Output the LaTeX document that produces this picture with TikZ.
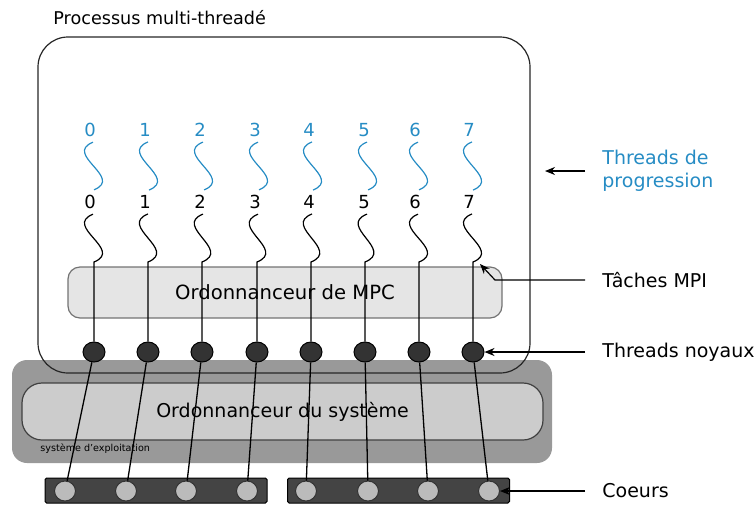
\documentclass[tikz,border=0pt]{standalone}
\usepackage{fontspec}
\setmainfont{DejaVu Sans}
\usetikzlibrary{arrows.meta,positioning,shapes.geometric}
\definecolor{progblue}{RGB}{38,140,196}
\definecolor{osgray}{RGB}{153,153,153}
\definecolor{schedfill}{RGB}{204,204,204}
\definecolor{mpcfill}{RGB}{229,229,229}
\definecolor{kthread}{RGB}{51,51,51}
\definecolor{corebar}{RGB}{68,68,68}
\definecolor{corefill}{RGB}{187,187,187}

\begin{document}
\begin{tikzpicture}[
  x=0.5pt, y=-0.5pt,
  font=\fontsize{9.5}{11.5}\selectfont,
  osbox/.style={fill=osgray, rounded corners=7.5pt, inner sep=0pt},
  procbox/.style={draw=black!85, line width=0.6pt, rounded corners=15pt, inner sep=0pt},
  sched/.style={draw=black!75, line width=0.6pt, fill=schedfill, rounded corners=10pt, inner sep=0pt},
  mpcsched/.style={draw=black!55, line width=0.6pt, fill=mpcfill, rounded corners=6pt, inner sep=0pt},
  num/.style={inner sep=2.5pt, font=\fontsize{9}{10}\selectfont},
  prog/.style={num, text=progblue},
  kth/.style={ellipse, draw=black, fill=kthread, line width=0.5pt, minimum width=11pt, minimum height=10pt, inner sep=0pt},
  bar/.style={draw=black, fill=corebar, line width=0.5pt, rounded corners=0.8pt, minimum width=111pt, minimum height=12.5pt, inner sep=0pt},
  core/.style={ellipse, draw=black!80, fill=corefill, line width=0.5pt, minimum width=10.5pt, minimum height=10pt, inner sep=0pt},
  pwave/.style={draw=progblue, line width=0.6pt},
  twave/.style={draw=black, line width=0.6pt},
  link/.style={draw=black, line width=0.65pt},
  lbl/.style={anchor=west, inner sep=0pt, align=left},
  ann/.style={-{Stealth[length=5pt,width=4pt]}, line width=0.6pt},
]
\useasboundingbox (0,0) rectangle (755,505);

% ===================== boxes =====================
\node[osbox, minimum width=270pt, minimum height=51.5pt] (os) at (282,411.5) {};
\node[procbox, minimum width=246pt, minimum height=168pt] (proc) at (284,205) {};
\node[anchor=west, inner sep=0pt, font=\fontsize{8.8}{10}\selectfont] (title) at (53,18) {Processus multi-threadé};

\node[sched, minimum width=260.5pt, minimum height=28.5pt] (ossched) at (282.5,411.5) {Ordonnanceur du système};
\node[anchor=west, inner sep=0pt, font=\fontsize{4.8}{6}\selectfont] (oslbl) at (40,449) {système d'exploitation};
\node[mpcsched, minimum width=217pt, minimum height=25.5pt, font=\fontsize{9.8}{11.5}\selectfont] (mpc) at (285,292.5) {Ordonnanceur de MPC};

% ===================== threads de progression / taches MPI =====================
\node[prog] (p0) at (90,130)  {0};
\node[prog] (p1) at (145,130) {1};
\node[prog] (p2) at (200,130) {2};
\node[prog] (p3) at (255,130) {3};
\node[prog] (p4) at (309,130) {4};
\node[prog] (p5) at (364,130) {5};
\node[prog] (p6) at (415,130) {6};
\node[prog] (p7) at (469,130) {7};

\node[num] (m0) at (90,202)  {0};
\node[num] (m1) at (145,202) {1};
\node[num] (m2) at (200,202) {2};
\node[num] (m3) at (255,202) {3};
\node[num] (m4) at (309,202) {4};
\node[num] (m5) at (364,202) {5};
\node[num] (m6) at (415,202) {6};
\node[num] (m7) at (469,202) {7};

% ends of the MPI task waves
\coordinate (e0) at (94,262);
\coordinate (e1) at (148,262);
\coordinate (e2) at (202,262);
\coordinate (e3) at (257,262);
\coordinate (e4) at (311,262);
\coordinate (e5) at (365,262);
\coordinate (e6) at (419,262);
\coordinate (e7) at (473,262);

% ===================== threads noyaux and coeurs =====================
\node[bar] (bar1) at (156,490.5) {};
\node[bar] (bar2) at (398.5,490.5) {};

\node[kth] (t0) at (94,352)  {};
\node[kth] (t1) at (148,352) {};
\node[kth] (t2) at (202,352) {};
\node[kth] (t3) at (257,352) {};
\node[kth] (t4) at (311,352) {};
\node[kth] (t5) at (365,352) {};
\node[kth] (t6) at (419,352) {};
\node[kth] (t7) at (473,352) {};

\node[core] (c0) at (65,491)  {};
\node[core] (c1) at (126,491) {};
\node[core] (c2) at (186,491) {};
\node[core] (c3) at (247,491) {};
\node[core] (c4) at (306,491) {};
\node[core] (c5) at (368,491) {};
\node[core] (c6) at (428,491) {};
\node[core] (c7) at (489,491) {};

% waves (progression thread -> MPI task -> kernel thread)
\draw[pwave] ([xshift=1.5pt]p0.south) .. controls +(-30,12) and +(30,-12) .. ([xshift=2pt]m0.north);
\draw[pwave] ([xshift=1.5pt]p1.south) .. controls +(-30,12) and +(30,-12) .. ([xshift=2pt]m1.north);
\draw[pwave] ([xshift=1.5pt]p2.south) .. controls +(-30,12) and +(30,-12) .. ([xshift=2pt]m2.north);
\draw[pwave] ([xshift=1.5pt]p3.south) .. controls +(-30,12) and +(30,-12) .. ([xshift=2pt]m3.north);
\draw[pwave] ([xshift=1.5pt]p4.south) .. controls +(-30,12) and +(30,-12) .. ([xshift=2pt]m4.north);
\draw[pwave] ([xshift=1.5pt]p5.south) .. controls +(-30,12) and +(30,-12) .. ([xshift=2pt]m5.north);
\draw[pwave] ([xshift=1.5pt]p6.south) .. controls +(-30,12) and +(30,-12) .. ([xshift=2pt]m6.north);
\draw[pwave] ([xshift=1.5pt]p7.south) .. controls +(-30,12) and +(30,-12) .. ([xshift=2pt]m7.north);

\draw[twave] ([xshift=1.5pt]m0.south) .. controls +(-30,12) and +(30,-12) .. (e0) -- (t0);
\draw[twave] ([xshift=1.5pt]m1.south) .. controls +(-30,12) and +(30,-12) .. (e1) -- (t1);
\draw[twave] ([xshift=1.5pt]m2.south) .. controls +(-30,12) and +(30,-12) .. (e2) -- (t2);
\draw[twave] ([xshift=1.5pt]m3.south) .. controls +(-30,12) and +(30,-12) .. (e3) -- (t3);
\draw[twave] ([xshift=1.5pt]m4.south) .. controls +(-30,12) and +(30,-12) .. (e4) -- (t4);
\draw[twave] ([xshift=1.5pt]m5.south) .. controls +(-30,12) and +(30,-12) .. (e5) -- (t5);
\draw[twave] ([xshift=1.5pt]m6.south) .. controls +(-30,12) and +(30,-12) .. (e6) -- (t6);
\draw[twave] ([xshift=1.5pt]m7.south) .. controls +(-30,12) and +(30,-12) .. (e7) -- (t7);

% kernel thread -> core
\draw[link] (t0) -- (c0);
\draw[link] (t1) -- (c1);
\draw[link] (t2) -- (c2);
\draw[link] (t3) -- (c3);
\draw[link] (t4) -- (c4);
\draw[link] (t5) -- (c5);
\draw[link] (t6) -- (c6);
\draw[link] (t7) -- (c7);

% ===================== legend on the right =====================
\node[lbl, text=progblue] (lprog) at (602,171) {Threads de\\progression};
\node[lbl] (ltac) at (602,280) {Tâches MPI};
\node[lbl] (lnoy) at (602,352) {Threads noyaux};
\node[lbl] (lcoe) at (602,491) {Coeurs};

\coordinate (progtip) at (545,171);
\coordinate (tacbend) at (495,280);

\draw[ann] ([xshift=-8.5pt]lprog.west) -- (progtip);
\draw[ann] ([xshift=-8.5pt]ltac.west) -- (tacbend) -- ([xshift=3.5pt,yshift=-1pt]e7);
\draw[ann] ([xshift=-8.5pt]lnoy.west) -- (t7);
\draw[ann] ([xshift=-8.5pt]lcoe.west) -- (c7);

\end{tikzpicture}
\end{document}
